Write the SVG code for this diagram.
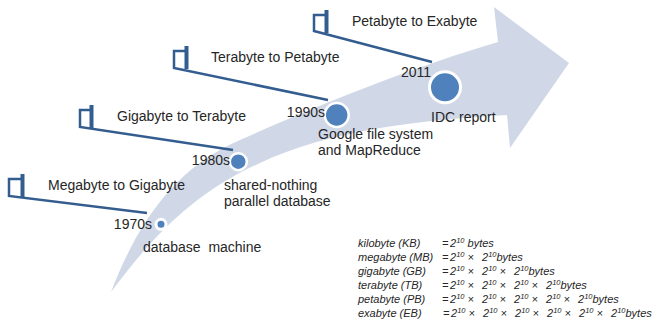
<svg xmlns="http://www.w3.org/2000/svg" width="653" height="325" viewBox="0 0 653 325">
<style>
.t{font-family:"Liberation Sans",Arial,sans-serif;font-size:14px;fill:#262626;white-space:pre}
.f{font-family:"Liberation Sans",Arial,sans-serif;font-size:11px;font-style:italic;fill:#262626}
.s{font-size:7.5px}
.node{fill:#4f81bd;stroke:#ffffff}
.lead{fill:none;stroke:#335c8f;stroke-width:2.5;stroke-linejoin:miter}
.bar{stroke:#335c8f;stroke-width:4}
</style>
<rect width="653" height="325" fill="#ffffff"/>
<g id="arrow">
<path d="M111,292 C135,230 170,170 240,140 C330,100 420,65 498,42 L494,7 L569,63 L510,148 L507,115 C420,120 330,130 260,163 C190,195 150,240 111,292 Z" fill="#d0d8e8"/>
</g>
<g id="connectors">
<path class="lead" d="M22,179 L9,179 L9,196 L147,213"/>
<line class="bar" x1="22.5" y1="174" x2="22.5" y2="197"/>
<path class="lead" d="M91,110 L80,110 L80,127 L233,150"/>
<line class="bar" x1="91.5" y1="105" x2="91.5" y2="128"/>
<path class="lead" d="M186,51 L174,51 L174,68 L328,100"/>
<line class="bar" x1="186.5" y1="46" x2="186.5" y2="69"/>
<path class="lead" d="M326,15 L314,15 L314,31 L432,62"/>
<line class="bar" x1="326.5" y1="10" x2="326.5" y2="33"/>
</g>
<g id="era-mb-gb"><text class="t" x="48" y="190">Megabyte to Gigabyte</text></g>
<g id="era-gb-tb"><text class="t" x="117" y="121">Gigabyte to Terabyte</text></g>
<g id="era-tb-pb"><text class="t" x="211" y="62">Terabyte to Petabyte</text></g>
<g id="era-pb-eb"><text class="t" x="352" y="26">Petabyte to Exabyte</text></g>
<g id="node-1970s">
<circle class="node" cx="161" cy="224.3" r="5" stroke-width="3"/>
<text class="t" x="152" y="229" text-anchor="end">1970s</text>
<text class="t" x="143" y="252">database  machine</text>
</g>
<g id="node-1980s">
<circle class="node" cx="238.3" cy="161.7" r="8.5" stroke-width="2.5"/>
<text class="t" x="230" y="164.5" text-anchor="end">1980s</text>
<text class="t" x="224" y="190">shared-nothing</text>
<text class="t" x="224" y="206">parallel database</text>
</g>
<g id="node-1990s">
<circle class="node" cx="336.7" cy="115" r="12" stroke-width="2.5"/>
<text class="t" x="325" y="117" text-anchor="end">1990s</text>
<text class="t" x="318" y="139">Google file system</text>
<text class="t" x="318" y="155">and MapReduce</text>
</g>
<g id="node-2011">
<circle class="node" cx="445" cy="87.3" r="15.5" stroke-width="3"/>
<text class="t" x="401" y="77">2011</text>
<text class="t" x="431" y="122">IDC report</text>
</g>
<g id="units">
<text class="f" x="358" y="247">kilobyte (KB)</text>
<text class="f" x="442" y="247">= <tspan x="450">2</tspan><tspan class="s" dy="-4">10</tspan><tspan dy="4"> bytes</tspan></text>
<text class="f" x="358" y="261">megabyte (MB)</text>
<text class="f" x="442" y="261">= <tspan x="450">2</tspan><tspan class="s" dy="-4">10</tspan><tspan dy="4"> × </tspan><tspan x="482">2</tspan><tspan class="s" dy="-4">10</tspan><tspan dy="4">bytes</tspan></text>
<text class="f" x="358" y="275">gigabyte (GB)</text>
<text class="f" x="442" y="275">= <tspan x="450">2</tspan><tspan class="s" dy="-4">10</tspan><tspan dy="4"> × </tspan><tspan x="482">2</tspan><tspan class="s" dy="-4">10</tspan><tspan dy="4"> × </tspan><tspan x="514">2</tspan><tspan class="s" dy="-4">10</tspan><tspan dy="4">bytes</tspan></text>
<text class="f" x="358" y="288.5">terabyte (TB)</text>
<text class="f" x="442" y="288.5">= <tspan x="450">2</tspan><tspan class="s" dy="-4">10</tspan><tspan dy="4"> × </tspan><tspan x="482">2</tspan><tspan class="s" dy="-4">10</tspan><tspan dy="4"> × </tspan><tspan x="514">2</tspan><tspan class="s" dy="-4">10</tspan><tspan dy="4"> × </tspan><tspan x="546">2</tspan><tspan class="s" dy="-4">10</tspan><tspan dy="4">bytes</tspan></text>
<text class="f" x="358" y="302.5">petabyte (PB)</text>
<text class="f" x="442" y="302.5">= <tspan x="450">2</tspan><tspan class="s" dy="-4">10</tspan><tspan dy="4"> × </tspan><tspan x="482">2</tspan><tspan class="s" dy="-4">10</tspan><tspan dy="4"> × </tspan><tspan x="514">2</tspan><tspan class="s" dy="-4">10</tspan><tspan dy="4"> × </tspan><tspan x="546">2</tspan><tspan class="s" dy="-4">10</tspan><tspan dy="4"> × </tspan><tspan x="578">2</tspan><tspan class="s" dy="-4">10</tspan><tspan dy="4">bytes</tspan></text>
<text class="f" x="358" y="316.5">exabyte (EB)</text>
<text class="f" x="443" y="316.5">= <tspan x="451">2</tspan><tspan class="s" dy="-4">10</tspan><tspan dy="4"> × </tspan><tspan x="483">2</tspan><tspan class="s" dy="-4">10</tspan><tspan dy="4"> × </tspan><tspan x="515">2</tspan><tspan class="s" dy="-4">10</tspan><tspan dy="4"> × </tspan><tspan x="547">2</tspan><tspan class="s" dy="-4">10</tspan><tspan dy="4"> × </tspan><tspan x="579">2</tspan><tspan class="s" dy="-4">10</tspan><tspan dy="4"> × </tspan><tspan x="611">2</tspan><tspan class="s" dy="-4">10</tspan><tspan dy="4">bytes</tspan></text>
</g>
</svg>
